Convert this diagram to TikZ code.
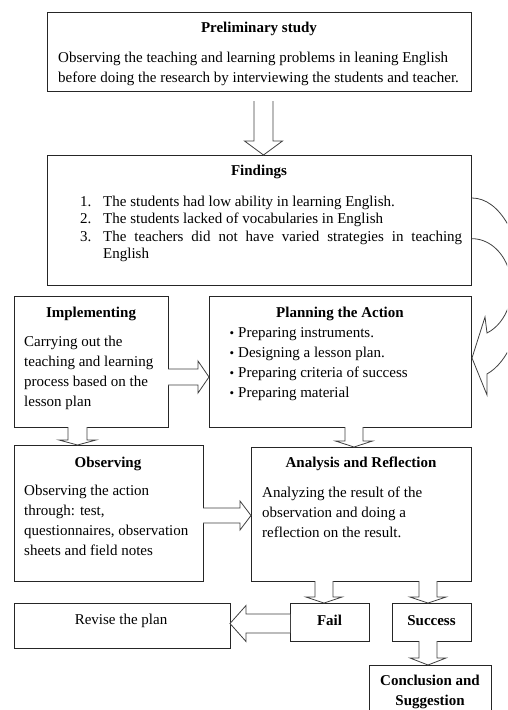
\documentclass[tikz,border=0pt]{standalone}
\usepackage{fontspec}
\setmainfont{Liberation Serif}
\usetikzlibrary{calc}
\newcommand\dblock[6]{% center x, top y, head base y, tip y, half shaft, half head
  \draw[blk] (#1-#5,#2) -- (#1-#5,#3) -- (#1-#6,#3) -- (#1,#4) -- (#1+#6,#3) -- (#1+#5,#3) -- (#1+#5,#2);}
\newcommand\hblock[6]{% start x, head base x, tip x, center y, half shaft, half head
  \draw[blk] (#1,#4-#5) -- (#2,#4-#5) -- (#2,#4-#6) -- (#3,#4) -- (#2,#4+#6) -- (#2,#4+#5) -- (#1,#4+#5);}
\begin{document}
\begin{tikzpicture}[x=1pt,y=-1pt,
  box/.style={draw=black!85, line width=0.9pt, anchor=north west, inner sep=0pt, outer sep=0pt},
  ttl/.style={font=\fontsize{15}{20}\selectfont\bfseries, inner sep=0pt, anchor=base},
  txt/.style={font=\fontsize{15}{20}\selectfont, inner sep=0pt, anchor=base west},
  lst/.style={font=\fontsize{15}{17.5}\selectfont, inner sep=0pt, anchor=base west},
  blk/.style={draw=black!75, line width=0.8pt, fill=white, line join=miter}]
\path[use as bounding box] (0,0) rectangle (507,710);
\clip (0,0) rectangle (507,710);

% Preliminary study
\node[box, minimum width=424pt, minimum height=79pt] (prelim) at (47,12) {};
\node[ttl] (prelimT) at (259,32) {Preliminary study};
\node[txt] (prelimB) at (58,62) {\parbox[t]{420pt}{Observing the teaching and learning problems in leaning English\\before doing the research by interviewing the students and teacher.}};

% Findings
\node[box, minimum width=424pt, minimum height=130pt] (find) at (47,155) {};
\node[ttl] (findT) at (259,175) {Findings};
\node[lst] (n1) at (80,206) {1.};
\node[lst] (n2) at (80,223.5) {2.};
\node[lst] (n3) at (80,241) {3.};
\node[lst] (f1) at (103,206) {The students had low ability in learning English.};
\node[lst] (f2) at (103,223.5) {The students lacked of vocabularies in English};
\node[lst] (f3) at (103,241) {\makebox[359pt][s]{The teachers did not have varied strategies in teaching}};
\node[lst] (f4) at (103,258.5) {English};

% Implementing
\node[box, minimum width=154pt, minimum height=131pt] (impl) at (14,296) {};
\node[ttl] (implT) at (91,317) {Implementing};
\node[txt] (implB) at (24,346) {\parbox[t]{142pt}{\raggedright Carrying out the\\teaching and learning\\process based on the\\lesson plan}};

% Planning the Action
\node[box, minimum width=262pt, minimum height=131pt] (plan) at (209,296) {};
\node[ttl] (planT) at (340,317) {Planning the Action};
\foreach \yy/\tx [count=\i] in {337/Preparing instruments., 357/Designing a lesson plan., 377/Preparing criteria of success, 397/Preparing material}{
  \node[txt] (pb\i) at (229.5,\yy) {{\fontsize{13}{13}\selectfont •}};
  \node[txt] (pt\i) at (238,\yy) {\tx};
}

% Observing
\node[box, minimum width=189pt, minimum height=136pt] (obs) at (14,445) {};
\node[ttl] (obsT) at (108,467) {Observing};
\node[txt] (obsB) at (24,495) {\parbox[t]{178pt}{\raggedright Observing the action\\through: test,\\questionnaires, observation\\sheets and field notes}};

% Analysis and Reflection
\node[box, minimum width=220pt, minimum height=134pt] (ana) at (251,447) {};
\node[ttl] (anaT) at (361,467) {Analysis and Reflection};
\node[txt] (anaB) at (262,497) {\parbox[t]{205pt}{\raggedright Analyzing the result of the\\observation and doing a\\reflection on the result.}};

% Bottom row
\node[box, minimum width=216pt, minimum height=45pt] (rev) at (14,603) {};
\node[txt, anchor=base] (revT) at (121,624.5) {Revise the plan};
\node[box, minimum width=79pt, minimum height=38pt] (fail) at (290,603) {};
\node[ttl] (failT) at (329.5,625) {Fail};
\node[box, minimum width=79pt, minimum height=38pt] (succ) at (392,603) {};
\node[ttl] (succT) at (431.5,625) {Success};
\node[box, minimum width=122pt, minimum height=60pt] (concl) at (369,665) {};
\node[ttl] (conclT1) at (430,685) {Conclusion and};
\node[ttl] (conclT2) at (430,705) {Suggestion};

% Block arrows
\dblock{263.5}{101}{141}{155}{9.5}{19}
\dblock{77.5}{427}{440}{445}{9.5}{18.5}
\dblock{354}{427}{441}{447}{9}{18.5}
\dblock{324}{581}{597}{603}{9}{18}
\dblock{428}{581}{597}{603}{9}{18}
\dblock{428}{641}{658}{665}{9}{18}
\hblock{168}{198}{209}{377}{8}{16}
\hblock{203}{240}{251}{515.5}{7.5}{14.5}
\hblock{290}{246}{230}{623.5}{9.5}{18}

% Curved arrow from Findings back to Planning
\draw[draw=black!75, line width=0.8pt, line join=miter]
  (472,198) arc[start angle=90, end angle=-72.8, x radius=50.6pt, y radius=90pt]
  -- (487,395) -- (472,358) -- (485,317) -- (487,333)
  arc[start angle=-67.7, end angle=90, x radius=39.6pt, y radius=49pt];
\end{tikzpicture}
\end{document}
